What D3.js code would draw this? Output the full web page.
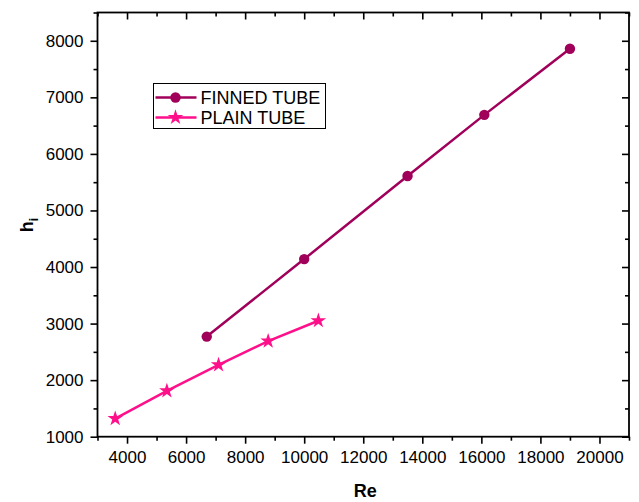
<!DOCTYPE html>
<html>
<head>
<meta charset="utf-8">
<script src="https://cdn.jsdelivr.net/npm/d3@7"></script>
<style>
  body { margin: 0; background: #fff; }
  svg { display: block; font-family: "Liberation Sans", Arial, sans-serif; }
  .axis path { display: none; }
  .axis line { stroke: #000; stroke-width: 1.6; }
  .axis text { font-size: 17px; fill: #000; }
</style>
</head>
<body>
<div id="chart"></div>
<script>
// data
const finnedRe = [6700, 10000, 13500, 16100, 19000];
const finnedH = [2770, 4140, 5610, 6690, 7860];
const plainRe = [3600, 5350, 7100, 8780, 10480];
const plainH = [1320, 1810, 2270, 2690, 3050];

const xMajor = [4000, 6000, 8000, 10000, 12000, 14000, 16000, 18000, 20000];
const xMinor = [3000, 5000, 7000, 9000, 11000, 13000, 15000, 17000, 19000, 21000];
const yMajor = [1000, 2000, 3000, 4000, 5000, 6000, 7000, 8000];
const yMinor = [1500, 2500, 3500, 4500, 5500, 6500, 7500, 8500];

const seriesNames = ["FINNED TUBE", "PLAIN TUBE"];
const seriesColors = ["#a0005a", "#ff0f8a"];

const width = 639, height = 502;
const plotL = 97.5, plotR = 629, plotT = 12.5, plotB = 436.7;

const svg = d3.select("#chart").append("svg")
  .attr("width", width)
  .attr("height", height);

const x = d3.scaleLinear().domain([3000, 21000]).range([plotL, plotR]);
const y = d3.scaleLinear().domain([1000, 8500]).range([plotB, plotT]);

// bottom axis (outward ticks)
svg.append("g").attr("class", "axis")
  .attr("transform", `translate(0,${plotB})`)
  .call(d3.axisBottom(x).tickValues(xMajor).tickSize(7).tickPadding(7).tickFormat(d3.format("d")));
svg.append("g").attr("class", "axis")
  .attr("transform", `translate(0,${plotB})`)
  .call(d3.axisBottom(x).tickValues(xMinor).tickSize(4).tickFormat(""));

// top axis (inward ticks)
svg.append("g").attr("class", "axis")
  .attr("transform", `translate(0,${plotT})`)
  .call(d3.axisBottom(x).tickValues(xMajor).tickSize(7).tickFormat(""));
svg.append("g").attr("class", "axis")
  .attr("transform", `translate(0,${plotT})`)
  .call(d3.axisBottom(x).tickValues(xMinor).tickSize(4).tickFormat(""));

// left axis (outward ticks)
svg.append("g").attr("class", "axis")
  .attr("transform", `translate(${plotL},0)`)
  .call(d3.axisLeft(y).tickValues(yMajor).tickSize(7).tickPadding(7).tickFormat(d3.format("d")));
svg.append("g").attr("class", "axis")
  .attr("transform", `translate(${plotL},0)`)
  .call(d3.axisLeft(y).tickValues(yMinor).tickSize(4).tickFormat(""));

// right axis (inward ticks)
svg.append("g").attr("class", "axis")
  .attr("transform", `translate(${plotR},0)`)
  .call(d3.axisLeft(y).tickValues(yMajor).tickSize(7).tickFormat(""));
svg.append("g").attr("class", "axis")
  .attr("transform", `translate(${plotR},0)`)
  .call(d3.axisLeft(y).tickValues(yMinor).tickSize(4).tickFormat(""));

// frame
svg.append("rect")
  .attr("x", plotL).attr("y", plotT)
  .attr("width", plotR - plotL).attr("height", plotB - plotT)
  .attr("fill", "none").attr("stroke", "#000").attr("stroke-width", 1.8);

// axis titles
svg.append("text")
  .attr("x", (plotL + plotR) / 2 + 2)
  .attr("y", 497)
  .attr("text-anchor", "middle")
  .attr("font-size", 18).attr("font-weight", "bold")
  .text("Re");

const yt = svg.append("text")
  .attr("transform", "translate(33,225) rotate(-90)")
  .attr("text-anchor", "middle")
  .attr("font-size", 18).attr("font-weight", "bold");
yt.append("tspan").text("h");
yt.append("tspan").attr("font-size", 12).attr("dy", 5).text("i");

const line = d3.line().x(d => x(d[0])).y(d => y(d[1]));
const finned = finnedRe.map((v, i) => [v, finnedH[i]]);
const plain = plainRe.map((v, i) => [v, plainH[i]]);

const circleSym = d3.symbol().type(d3.symbolCircle).size(85);
const starSym = d3.symbol().type(d3.symbolStar).size(75);

// finned tube
svg.append("path").datum(finned)
  .attr("d", line).attr("fill", "none")
  .attr("stroke", seriesColors[0]).attr("stroke-width", 2.5);
svg.selectAll("path.fm").data(finned).enter().append("path")
  .attr("class", "fm")
  .attr("transform", d => `translate(${x(d[0])},${y(d[1])})`)
  .attr("d", circleSym).attr("fill", seriesColors[0]);

// plain tube
svg.append("path").datum(plain)
  .attr("d", line).attr("fill", "none")
  .attr("stroke", seriesColors[1]).attr("stroke-width", 2.5);
svg.selectAll("path.pm").data(plain).enter().append("path")
  .attr("class", "pm")
  .attr("transform", d => `translate(${x(d[0])},${y(d[1])})`)
  .attr("d", starSym).attr("fill", seriesColors[1]);

// legend
const lg = svg.append("g").attr("transform", "translate(153.5,83.5)");
lg.append("rect")
  .attr("width", 172).attr("height", 45)
  .attr("fill", "#fff").attr("stroke", "#000").attr("stroke-width", 1);
const syms = [circleSym, starSym];
seriesNames.forEach((name, i) => {
  const ry = 14 + i * 20;
  lg.append("line")
    .attr("x1", 2).attr("x2", 43).attr("y1", ry).attr("y2", ry)
    .attr("stroke", seriesColors[i]).attr("stroke-width", 2.5);
  lg.append("path")
    .attr("transform", `translate(22,${ry})`)
    .attr("d", syms[i]).attr("fill", seriesColors[i]);
  lg.append("text")
    .attr("x", 47).attr("y", ry + 6.5)
    .attr("font-size", 18)
    .text(name);
});
</script>
</body>
</html>
